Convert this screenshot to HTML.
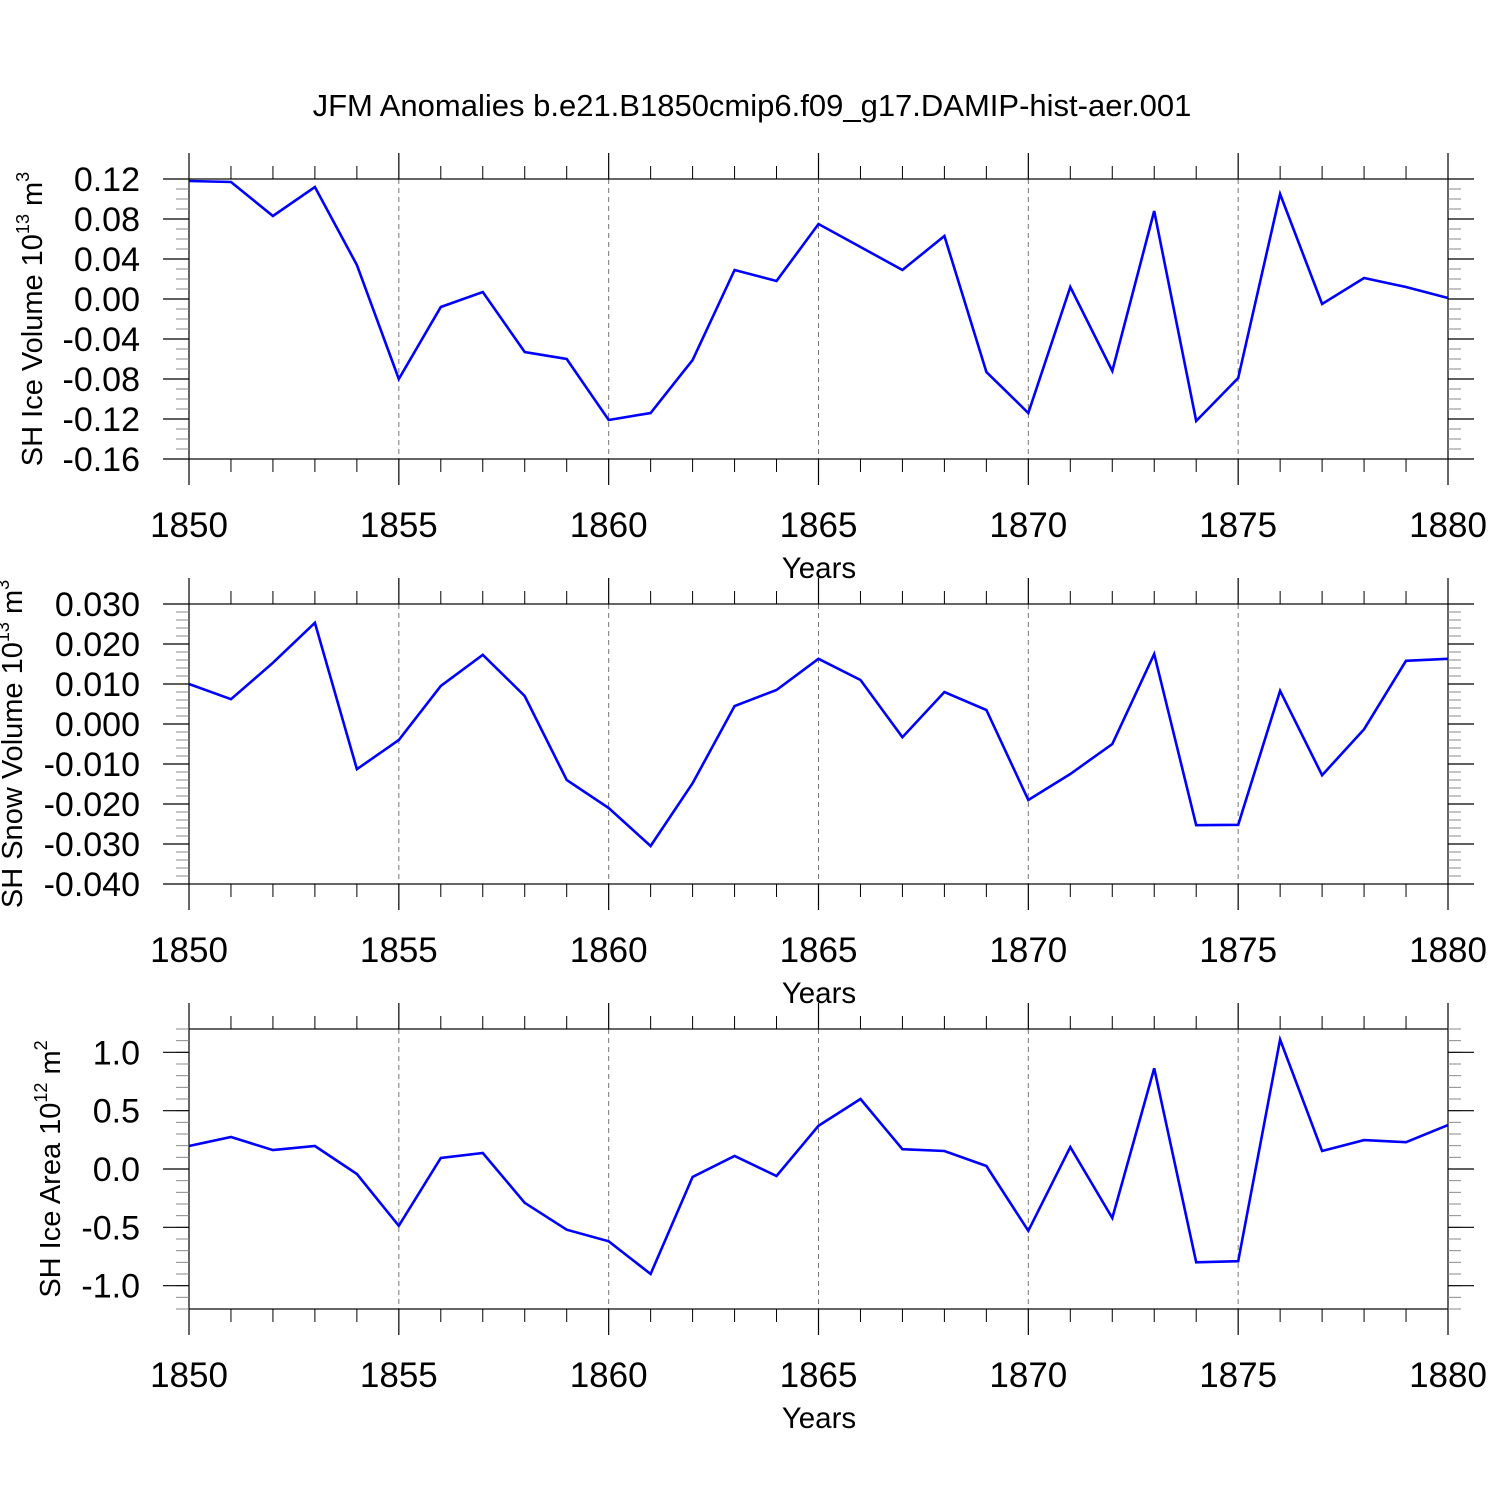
<!DOCTYPE html>
<html><head><meta charset="utf-8"><style>
html,body{margin:0;padding:0;background:#fff;}
svg{display:block;font-family:"Liberation Sans",sans-serif;}
</style></head><body>
<svg id="chart" width="1500" height="1500" viewBox="0 0 1500 1500" xmlns="http://www.w3.org/2000/svg">
<text x="752" y="116" font-size="31" text-anchor="middle">JFM Anomalies b.e21.B1850cmip6.f09_g17.DAMIP-hist-aer.001</text>
</svg>
<script>
const years = [1850,1851,1852,1853,1854,1855,1856,1857,1858,1859,1860,1861,1862,1863,1864,1865,1866,1867,1868,1869,1870,1871,1872,1873,1874,1875,1876,1877,1878,1879,1880];
const iceVolume = [0.118,0.117,0.083,0.112,0.034,-0.080,-0.008,0.007,-0.053,-0.060,-0.121,-0.114,-0.061,0.029,0.018,0.075,0.052,0.029,0.063,-0.073,-0.114,0.012,-0.072,0.088,-0.122,-0.079,0.105,-0.005,0.021,0.012,0.001];
const snowVolume = [0.010,0.0062,0.0153,0.0253,-0.0113,-0.004,0.0095,0.0173,0.007,-0.014,-0.021,-0.0305,-0.0148,0.0045,0.0085,0.0163,0.011,-0.0033,0.008,0.0035,-0.019,-0.0125,-0.005,0.0175,-0.0253,-0.0252,0.0083,-0.0128,-0.0013,0.0158,0.0163];
const iceArea = [0.197,0.274,0.162,0.197,-0.043,-0.487,0.094,0.137,-0.29,-0.52,-0.62,-0.90,-0.068,0.111,-0.06,0.37,0.60,0.17,0.154,0.026,-0.53,0.188,-0.42,0.863,-0.80,-0.79,1.11,0.154,0.248,0.23,0.376];
const xTicks = [1850,1855,1860,1865,1870,1875,1880];
const iceVolTicks = [0.12,0.08,0.04,0.00,-0.04,-0.08,-0.12,-0.16];
const iceVolLabels = ["0.12","0.08","0.04","0.00","-0.04","-0.08","-0.12","-0.16"];
const snowTicks = [0.03,0.02,0.01,0,-0.01,-0.02,-0.03,-0.04];
const snowLabels = ["0.030","0.020","0.010","0.000","-0.010","-0.020","-0.030","-0.040"];
const areaTicks = [1.0,0.5,0.0,-0.5,-1.0];
const areaLabels = ["1.0","0.5","0.0","-0.5","-1.0"];

const svg = document.getElementById('chart');
const NS = 'http://www.w3.org/2000/svg';
function mk(tag, attrs, parent){
  const e = document.createElementNS(NS, tag);
  for (const k in attrs) e.setAttribute(k, attrs[k]);
  (parent||svg).appendChild(e);
  return e;
}
const L = 189, R = 1448;
function xs(yr){ return L + (yr - 1850) * (R - L) / 30; }

function panel(name, top, bot, ymin, ymax, ticks, labels, minorStep, data, titleMain, titleExp, titleUnit, titleX){
  const g = mk('g', {});
  
  
  const ys = v => bot - (v - ymin) * (bot - top) / (ymax - ymin);
  for (const t of xTicks) {
    if (t === 1850 || t === 1880) continue;
    const gl = mk('line', {x1: xs(t), x2: xs(t), y1: top, y2: bot, stroke: '#777', 'stroke-width': 1, 'stroke-dasharray': '5,4'}, g);
    
    
  }
  const fr = mk('rect', {x: L, y: top, width: R - L, height: bot - top, fill: 'none', stroke: '#000', 'stroke-width': 1.2}, g);
  
  
  for (let yr = 1850; yr <= 1880; yr++) {
    const major = (yr % 5 === 0);
    const len = major ? 26 : 13;
    const x = xs(yr);
    mk('line', {x1: x, x2: x, y1: top - len, y2: top, stroke: '#000', 'stroke-width': major ? 1.2 : 1}, g);
    mk('line', {x1: x, x2: x, y1: bot, y2: bot + len, stroke: '#000', 'stroke-width': major ? 1.2 : 1}, g);
  }
  for (const t of xTicks) {
    const tl = mk('text', {x: xs(t), y: bot + 78, 'font-size': 35, 'text-anchor': 'middle'}, g);
    
    
    tl.textContent = String(t);
  }
  const xt = mk('text', {x: 819, y: bot + 119, 'font-size': 29.5, 'text-anchor': 'middle'}, g);
  
  
  xt.textContent = 'Years';
  const n = Math.round((ymax - ymin) / minorStep);
  for (let i = 0; i <= n; i++) {
    const v = ymin + i * minorStep;
    const y = ys(v);
    if (y < top - 0.5 || y > bot + 0.5) continue;
    mk('line', {x1: L - 13, x2: L, y1: y, y2: y, stroke: '#888', 'stroke-width': 1}, g);
    mk('line', {x1: R, x2: R + 13, y1: y, y2: y, stroke: '#888', 'stroke-width': 1}, g);
  }
  ticks.forEach((t, i) => {
    const y = ys(t);
    mk('line', {x1: L - 26, x2: L, y1: y, y2: y, stroke: '#000', 'stroke-width': 1.2}, g);
    mk('line', {x1: R, x2: R + 26, y1: y, y2: y, stroke: '#000', 'stroke-width': 1.2}, g);
    const tl = mk('text', {x: 140, y: y + 12, 'font-size': 34, 'text-anchor': 'end'}, g);
    
    
    tl.textContent = labels[i];
  });
  const cy = (top + bot) / 2;
  const yt = mk('text', {x: 0, y: 0, 'font-size': 29, 'text-anchor': 'middle', transform: `translate(${titleX},${cy}) rotate(-90)`}, g);
  
  
  yt.innerHTML = `${titleMain} 10<tspan font-size="18" dy="-13">${titleExp}</tspan><tspan dy="13"> m</tspan><tspan font-size="18" dy="-13">${titleUnit}</tspan>`;
  const pts = data.map((v, i) => xs(years[i]).toFixed(1) + ',' + ys(v).toFixed(1)).join(' ');
  const pl = mk('polyline', {points: pts, fill: 'none', stroke: '#0000ff', 'stroke-width': 2.6, 'stroke-linejoin': 'miter'}, g);
  
  
}

panel('ice-volume', 179, 459, -0.16, 0.12, iceVolTicks, iceVolLabels, 0.01, iceVolume, 'SH Ice Volume', '13', '3', 42);
panel('snow-volume', 604, 884, -0.04, 0.03, snowTicks, snowLabels, 0.002, snowVolume, 'SH Snow Volume', '13', '3', 22);
panel('ice-area', 1029, 1309, -1.2, 1.2, areaTicks, areaLabels, 0.1, iceArea, 'SH Ice Area', '12', '2', 60);
</script>
</body></html>
